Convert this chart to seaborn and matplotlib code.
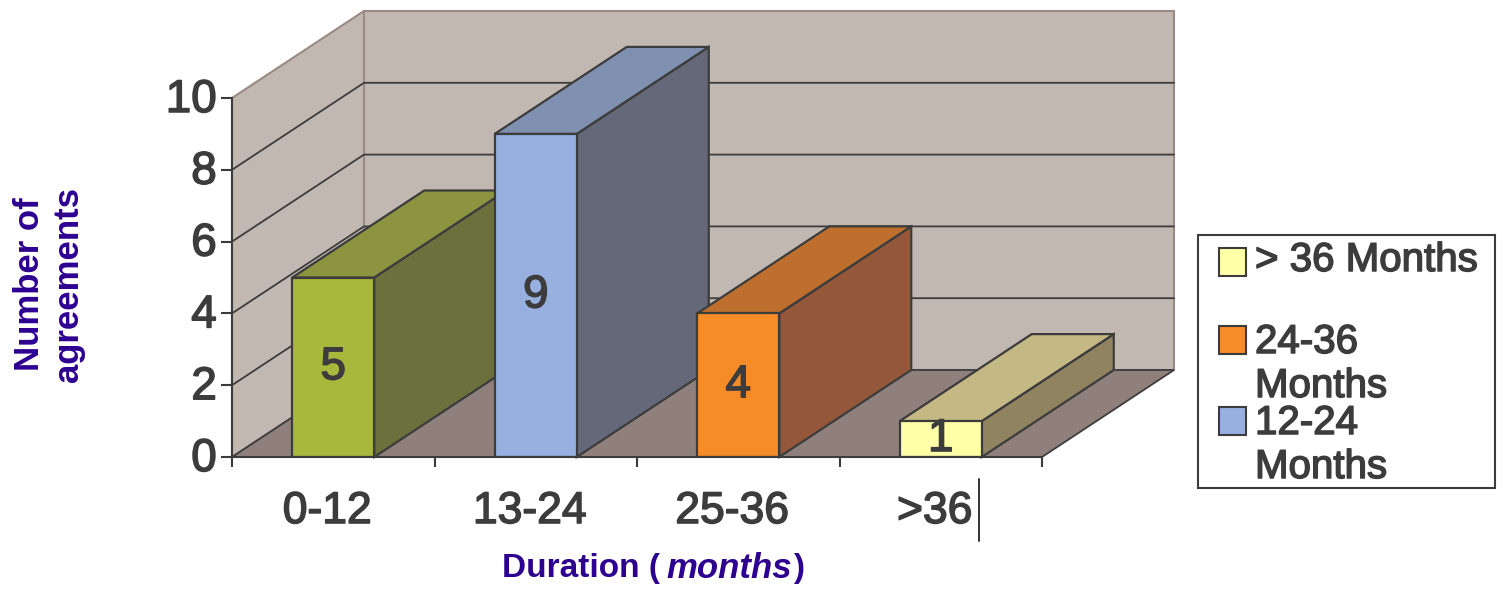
import matplotlib
matplotlib.use('Agg')
import matplotlib.pyplot as plt
import matplotlib.patheffects as pe
import seaborn as sns
from matplotlib.patches import Polygon, Rectangle
from matplotlib.lines import Line2D
from matplotlib.transforms import ScaledTranslation

categories = ['0-12', '13-24', '25-36', '>36']
values = [5, 9, 4, 1]
y_ticks = [0, 2, 4, 6, 8, 10]
front_colors = ['#a8b83c', '#98b0e0', '#f58c28', '#ffffa8']
top_colors = ['#8c9440', '#8090b0', '#bf6f2d', '#c4b884']
side_colors = ['#6c703c', '#646878', '#94573a', '#908460']
legend_labels = ['> 36 Months', '24-36\nMonths', '12-24\nMonths']
legend_colors = ['#ffffa8', '#f58c28', '#98b0e0']

W, H = 1497, 589
DARK = '#3c3c3c'
TITLE = '#2e0090'
WALL = '#c2b8b2'
FLOOR = '#8f807b'
EDGE = '#9a8a84'
HEAVY = [pe.withStroke(linewidth=1.1, foreground=DARK)]


def fx(x):
    return x / W


def fy(y):
    return 1 - y / H


def main():
    sns.set_style('white')
    plt.rcParams['font.family'] = ['Liberation Sans', 'DejaVu Sans']

    fig = plt.figure(figsize=(W / 100, H / 100), dpi=100, facecolor='white')
    ax = fig.add_axes([fx(232), fy(457), 810 / W, 359 / H])
    ax.patch.set_alpha(0)

    sns.barplot(x=categories, y=values, hue=categories, palette=front_colors, dodge=False,
                width=0.405, saturation=1, edgecolor=DARK, linewidth=1.6, legend=False, ax=ax)
    ax.set_xlim(-0.5, 3.5)
    ax.set_ylim(0, 10)

    # depth of the fake 3D box, in data units
    dx = 132 / 202.5
    dy = 87 / 35.9
    x0, x1 = -0.5, 3.5

    # walls and floor
    ax.add_patch(Polygon([(x0, 0), (x0 + dx, dy), (x0 + dx, 10 + dy), (x0, 10)], fc=WALL, ec=EDGE, lw=1.5, clip_on=False, zorder=0.5))
    ax.add_patch(Polygon([(x0 + dx, dy), (x1 + dx, dy), (x1 + dx, 10 + dy), (x0 + dx, 10 + dy)], fc=WALL, ec=EDGE, lw=1.5, clip_on=False, zorder=0.5))
    ax.add_patch(Polygon([(x0, 0), (x1, 0), (x1 + dx, dy), (x0 + dx, dy)], fc=FLOOR, ec=DARK, lw=1.3, clip_on=False, zorder=0.6))

    # gridlines running along both walls
    for t in y_ticks[1:-1]:
        ax.plot([x0, x0 + dx, x1 + dx], [t, t + dy, t + dy], color=DARK, lw=1.3, clip_on=False, zorder=0.7)

    # side and top faces, each bar covers the one on its left
    for i, container in enumerate(ax.containers):
        bar = container[0]
        left, right = bar.get_x(), bar.get_x() + bar.get_width()
        v = bar.get_height()
        z = 2 + i
        ax.add_patch(Polygon([(right, 0), (right + dx, dy), (right + dx, v + dy), (right, v)],
                             fc=side_colors[i], ec=DARK, lw=1.6, clip_on=False, zorder=z))
        ax.add_patch(Polygon([(left, v), (right, v), (right + dx, v + dy), (left + dx, v + dy)],
                             fc=top_colors[i], ec=DARK, lw=1.6, clip_on=False, zorder=z))
        bar.set_zorder(z + 0.5)
        for lbl in ax.bar_label(container, fmt='%d', label_type='center', fontsize=33, color=DARK, zorder=10):
            lbl.set_path_effects(HEAVY)

    # axes
    sns.despine(ax=ax, top=True, right=True)
    for s in ['left', 'bottom']:
        ax.spines[s].set_color(DARK)
        ax.spines[s].set_linewidth(1.5)
        ax.spines[s].set_zorder(9)
    ax.set_yticks(y_ticks)
    ax.tick_params(axis='y', left=True, length=8, width=1.5, color=DARK, labelsize=33, labelcolor=DARK, pad=3)
    ax.set_xticks(range(len(categories)))
    ax.set_xticklabels(categories)
    ax.tick_params(axis='x', bottom=False, labelsize=32, labelcolor=DARK, pad=21)
    ax.set_xticks([-0.5, 0.5, 1.5, 2.5, 3.5], minor=True)
    ax.tick_params(axis='x', which='minor', bottom=True, length=7, width=1.5, color=DARK)
    for lbl in ax.get_xticklabels():
        lbl.set_transform(lbl.get_transform() + ScaledTranslation(-6 / 100, 0, fig.dpi_scale_trans))
        lbl.set_path_effects(HEAVY)
    for lbl in ax.get_yticklabels():
        lbl.set_transform(lbl.get_transform() + ScaledTranslation(0, 3 / 100, fig.dpi_scale_trans))
        lbl.set_path_effects(HEAVY)

    # axis titles
    fig.text(fx(49), fy(284), 'Number of\nagreements', rotation=90, ha='center', va='center', multialignment='center',
             fontsize=25, fontweight='bold', color=TITLE, linespacing=1.25)
    fig.text(fx(660), fy(568), 'Duration (', ha='right', va='center', fontsize=24, fontweight='bold', color=TITLE)
    fig.text(fx(666), fy(568), 'months', ha='left', va='center', fontsize=25, fontstyle='italic', fontweight='bold', color=TITLE)
    fig.text(fx(793), fy(568), ')', ha='left', va='center', fontsize=24, fontweight='bold', color=TITLE)

    # stray vertical stroke next to the last label
    fig.add_artist(Line2D([fx(979), fx(979)], [fy(479), fy(541)], color='#222222', lw=1.3))

    # legend box
    fig.add_artist(Rectangle((fx(1198), fy(488)), 297 / W, 253 / H, transform=fig.transFigure, fc='white', ec=DARK, lw=1.5))
    swatch_y = [262, 340, 421]
    text_y = [260, 364, 445]
    for label, color, sy, ty in zip(legend_labels, legend_colors, swatch_y, text_y):
        fig.add_artist(Rectangle((fx(1219), fy(sy + 14)), 27 / W, 28 / H, transform=fig.transFigure, fc=color, ec=DARK, lw=1.5))
        t = fig.text(fx(1255), fy(ty), label, ha='left', va='center', fontsize=29, color=DARK, linespacing=1.2)
        t.set_path_effects(HEAVY)

    fig.savefig('out.png', dpi=100)


if __name__ == '__main__':
    main()
